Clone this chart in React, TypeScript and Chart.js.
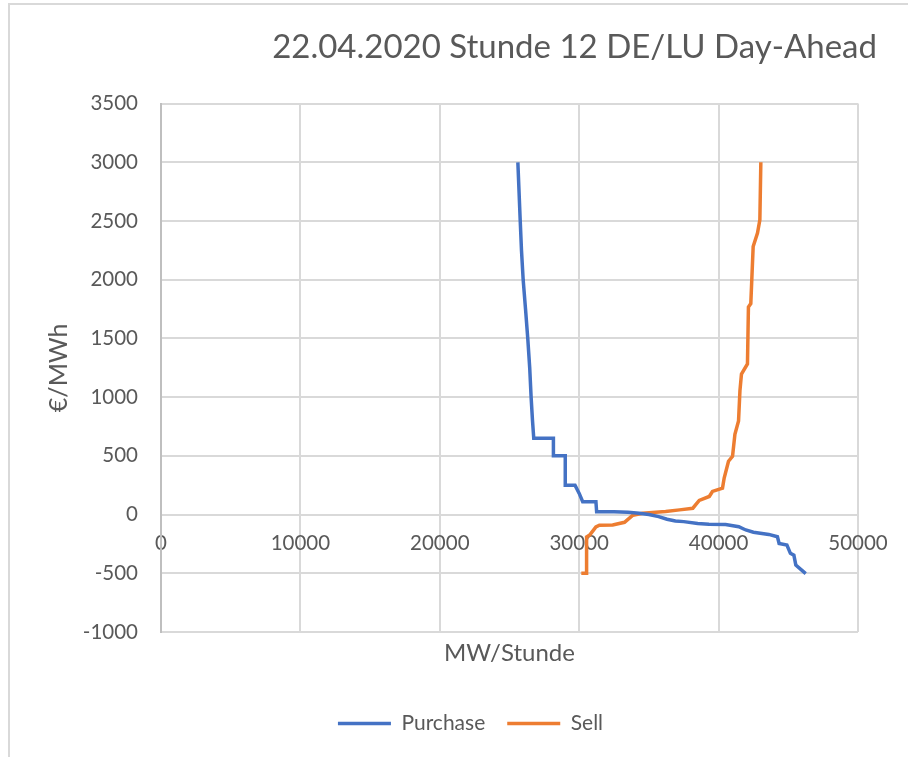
import React, { useEffect, useRef } from "react";
import { Chart, registerables } from "chart.js";

Chart.register(...registerables);

const chartTitle = "22.04.2020 Stunde 12 DE/LU Day-Ahead";
const xAxisTitle = "MW/Stunde";
const yAxisTitle = "€/MWh";
const seriesNames = ["Purchase", "Sell"];
const seriesColors = ["#4472C4", "#ED7D31"];

const xMin = 0;
const xMax = 50000;
const xStep = 10000;
const yMin = -1000;
const yMax = 3500;
const yStep = 500;

const purchaseX = [25600, 25770, 25860, 25980, 26150, 26310, 26450, 26550, 26650, 26740, 28150, 28150, 29000, 29000, 29700, 30000, 30250, 31200, 31250, 32500, 33500, 34300, 35000, 35700, 36300, 36900, 37500, 38500, 39300, 40500, 41450, 41950, 42500, 43600, 44220, 44340, 44900, 45150, 45400, 45540, 46250];
const purchaseY = [3000, 2500, 2250, 2000, 1750, 1500, 1250, 1000, 800, 650, 650, 500, 500, 250, 250, 180, 110, 110, 25, 25, 20, 12, 0, -17, -40, -55, -60, -75, -83, -85, -103, -131, -150, -169, -189, -246, -260, -330, -346, -431, -503];

const sellX = [30150, 30530, 30530, 30750, 31200, 31450, 32400, 33250, 33850, 34550, 36200, 37200, 38150, 38610, 39330, 39560, 40280, 40400, 40710, 41000, 41170, 41430, 41530, 41640, 42070, 42140, 42310, 42480, 42790, 42960, 43030];
const sellY = [-500, -500, -190, -175, -105, -90, -88, -66, -5, 12, 26, 40, 54, 120, 154, 197, 225, 311, 454, 497, 683, 797, 1054, 1197, 1283, 1768, 1797, 2283, 2397, 2511, 3000];

const FONT = "Lato, 'Open Sans', sans-serif";
const TEXT = "#595959";
const GRID = "#d9d9d9";

const plain = (v: any) => String(v);

export default function App() {
  const ref = useRef<HTMLCanvasElement>(null);

  useEffect(() => {
    const chart = new Chart(ref.current as HTMLCanvasElement, {
      type: "scatter",
      data: {
        datasets: [
          {
            label: seriesNames[0],
            data: purchaseX.map((x, i) => ({ x, y: purchaseY[i] })),
            showLine: true,
            borderColor: seriesColors[0],
            backgroundColor: seriesColors[0],
            borderWidth: 3.5,
            pointRadius: 0,
            pointHoverRadius: 0,
            tension: 0,
          },
          {
            label: seriesNames[1],
            data: sellX.map((x, i) => ({ x, y: sellY[i] })),
            showLine: true,
            borderColor: seriesColors[1],
            backgroundColor: seriesColors[1],
            borderWidth: 3.5,
            pointRadius: 0,
            pointHoverRadius: 0,
            tension: 0,
          },
        ],
      },
      options: {
        animation: false,
        responsive: false,
        maintainAspectRatio: false,
        layout: { padding: { left: 64, right: 31, top: 4, bottom: 13 } },
        plugins: {
          title: {
            display: true,
            text: chartTitle,
            align: "end",
            color: TEXT,
            font: { family: FONT, size: 33, weight: "normal", lineHeight: 1.2 },
            padding: { top: 24, bottom: 36 },
          },
          legend: {
            position: "bottom",
            labels: {
              usePointStyle: true,
              pointStyle: "line",
              pointStyleWidth: 53,
              color: TEXT,
              font: { family: FONT, size: 21 },
              padding: 22,
            },
          },
          tooltip: { enabled: false },
        },
        scales: {
          x: {
            type: "linear",
            position: { y: 0 } as any,
            min: xMin,
            max: xMax,
            ticks: { stepSize: xStep, padding: 17, color: TEXT, font: { family: FONT, size: 20.5 }, maxRotation: 0, callback: plain },
            grid: { color: GRID, lineWidth: 2, drawTicks: false },
            border: { display: false },
          },
          xt: {
            type: "linear",
            position: "bottom",
            min: xMin,
            max: xMax,
            ticks: { display: false },
            grid: { display: false, drawTicks: false },
            border: { display: false },
            title: {
              display: true,
              text: xAxisTitle,
              color: TEXT,
              font: { family: FONT, size: 24, lineHeight: 1 },
              padding: { top: 0, bottom: 26 },
            },
            afterFit: (s: any) => {
              s.height = 59;
            },
          },
          y: {
            type: "linear",
            min: yMin,
            max: yMax,
            ticks: { stepSize: yStep, padding: 23, color: TEXT, font: { family: FONT, size: 20.5 }, callback: plain },
            grid: { color: GRID, lineWidth: 2, drawTicks: false },
            border: { color: "#bfbfbf", width: 2 },
            title: {
              display: true,
              text: yAxisTitle,
              color: TEXT,
              font: { family: FONT, size: 25, lineHeight: 1 },
              padding: { top: -18, bottom: 0 },
            },
            afterFit: (s: any) => {
              s.width = 97;
            },
          },
          yr: {
            type: "linear",
            position: "right",
            ticks: { display: false },
            grid: { display: false, drawTicks: false },
            border: { display: false },
            afterFit: (s: any) => {
              s.width = 19;
            },
          },
        },
      } as any,
    });
    return () => chart.destroy();
  }, []);

  return (
    <div style={{ position: "fixed", left: 0, top: 0, width: 908, height: 757, background: "#fff" }}>
      <div
        style={{
          position: "absolute",
          left: 8,
          top: 3,
          right: 0,
          bottom: 0,
          borderLeft: "2px solid #d9d9d9",
          borderTop: "2px solid #d9d9d9",
        }}
      />
      <canvas ref={ref} width={908} height={757} style={{ position: "absolute", left: 0, top: 0 }} />
    </div>
  );
}
